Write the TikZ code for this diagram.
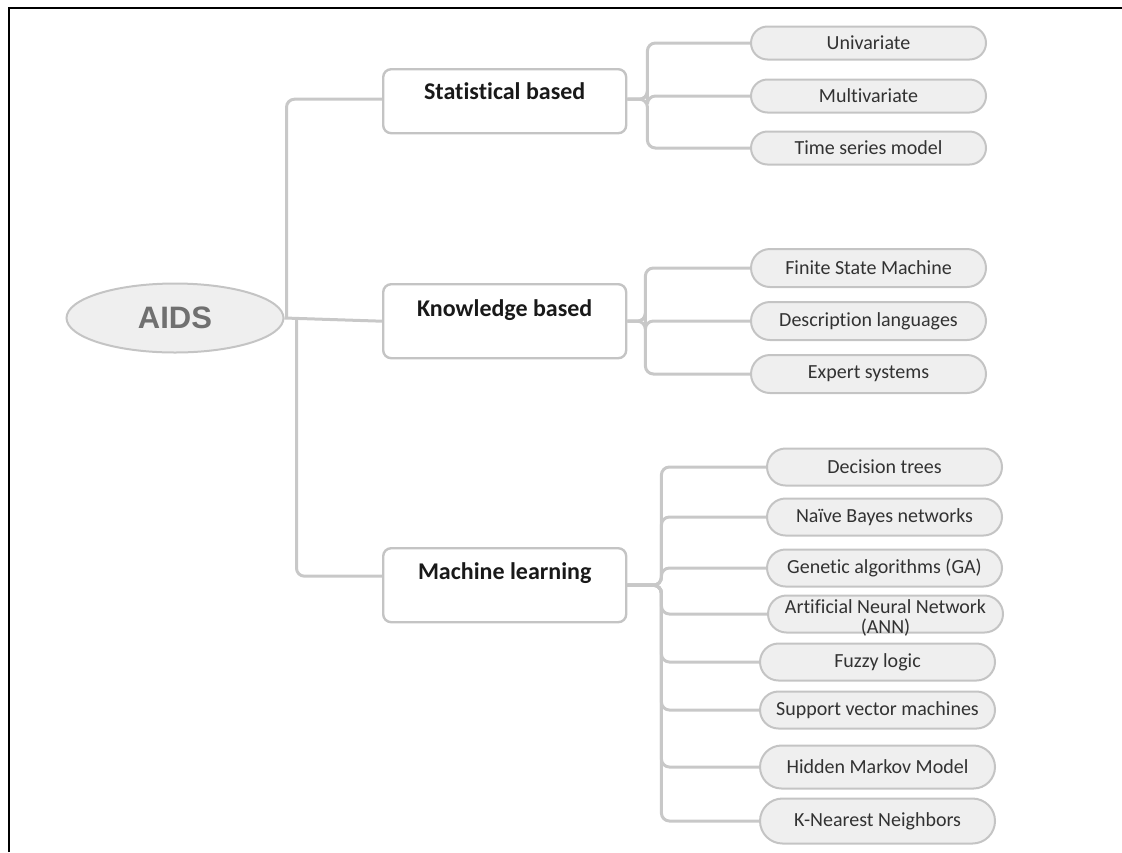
\documentclass[tikz,border=0pt]{standalone}
\usepackage{fontspec}
\setmainfont{Carlito}[Ligatures={NoCommon}]
\newfontfamily\aidsfont{Liberation Sans}
\usetikzlibrary{positioning, shapes.misc, shapes.geometric}

\definecolor{linkgray}{RGB}{200,200,200}
\definecolor{leaffill}{RGB}{239,239,239}
\definecolor{leafline}{RGB}{196,196,196}
\definecolor{inktext}{RGB}{50,50,50}
\definecolor{aidstext}{RGB}{112,112,112}

\begin{document}
\begin{tikzpicture}[x=0.5pt, y=-0.5pt,
        link/.style={draw=linkgray, line width=1.5pt, rounded corners=4pt},
        root/.style={ellipse, draw=leafline, line width=1pt, fill=leaffill,
            minimum width=108.5pt, minimum height=34.5pt, inner sep=0pt,
            font=\aidsfont\bfseries\fontsize{15.5}{18}\selectfont, text=aidstext},
        branch/.style={draw=leafline, line width=1.2pt, rounded corners=4pt,
            minimum width=121.5pt, inner sep=0pt, anchor=north west,
            font=\bfseries\fontsize{12}{14}\selectfont, text=black!90},
        leaf/.style={rounded rectangle, draw=leafline, line width=1pt, fill=leaffill,
            minimum width=117.5pt, minimum height=17pt, inner sep=0pt, anchor=west,
            font=\fontsize{10}{10}\selectfont, text=inktext},
        leaf text/.style={font=\fontsize{10}{10}\selectfont, text=inktext,
            align=center, inner sep=0pt}]

    \useasboundingbox (0,0) rectangle (1122,852);

    % page frame
    \draw[line width=1.2pt] (9,852) -- (9,8) -- (1122,8);

    % root and the three families
    \node[root] (aids) at (175,318) {AIDS};
    \node[branch, text height=15pt, text depth=17pt] (stat) at (382,68) {Statistical based};
    \node[branch, text height=16pt, text depth=21pt] (know) at (382,283) {Knowledge based};
    \node[branch, text height=15.5pt, text depth=21.5pt] (ml) at (382,547) {Machine learning};

    % statistical methods
    \node[leaf, minimum height=16.5pt] (uni) at (750,43) {Univariate};
    \node[leaf, minimum height=16.5pt] (multi) at (750,96) {Multivariate};
    \node[leaf, minimum height=16.5pt] (tsm) at (750,148) {Time series model};

    % knowledge methods
    \node[leaf, minimum height=19pt] (fsm) at (750,268) {Finite State Machine};
    \node[leaf, minimum height=19pt] (desc) at (750,321) {Description languages};
    \node[leaf, minimum height=19pt] (expert) at (750,374) {Expert systems};

    % machine learning methods
    \node[leaf, minimum height=18.5pt] (dt) at (766,467) {Decision trees};
    \node[leaf, minimum height=18.5pt] (nb) at (766,517) {Naïve Bayes networks};
    \node[leaf, minimum height=18.5pt] (ga) at (766,568) {Genetic algorithms (GA)};
    \node[leaf, minimum height=18.5pt,
          label={[leaf text, yshift=-2pt]center:Artificial Neural Network\\(ANN)}] (ann) at (767,614) {};
    \node[leaf, minimum height=18.5pt] (fuzzy) at (759,662) {Fuzzy logic};
    \node[leaf, minimum height=18.5pt] (svm) at (759,710) {Support vector machines};
    \node[leaf, minimum height=21.5pt] (hmm) at (759,767) {Hidden Markov Model};
    \node[leaf, minimum height=22.5pt] (knn) at (759,821) {K-Nearest Neighbors};

    % trunk links
    \draw[link] (aids.east) -- (know.west);
    \draw[link] ([xshift=1pt]aids.east) |- ([yshift=1pt]stat.west);
    \draw[link] ([xshift=6pt]aids.east) |- ([yshift=4.5pt]ml.west);

    % leaf links
    \foreach \m in {uni, multi, tsm}
        \draw[link] ([yshift=1pt]stat.east) -- ++(10pt,0) |- (\m.west);
    \foreach \m in {fsm, desc, expert}
        \draw[link] (know.east) -- ++(9pt,0) |- (\m.west);
    \foreach \m in {dt, nb, ga, ann, fuzzy, svm, hmm, knn}
        \draw[link] (ml.east) -- ++(17pt,0) |- (\m.west);
\end{tikzpicture}
\end{document}
